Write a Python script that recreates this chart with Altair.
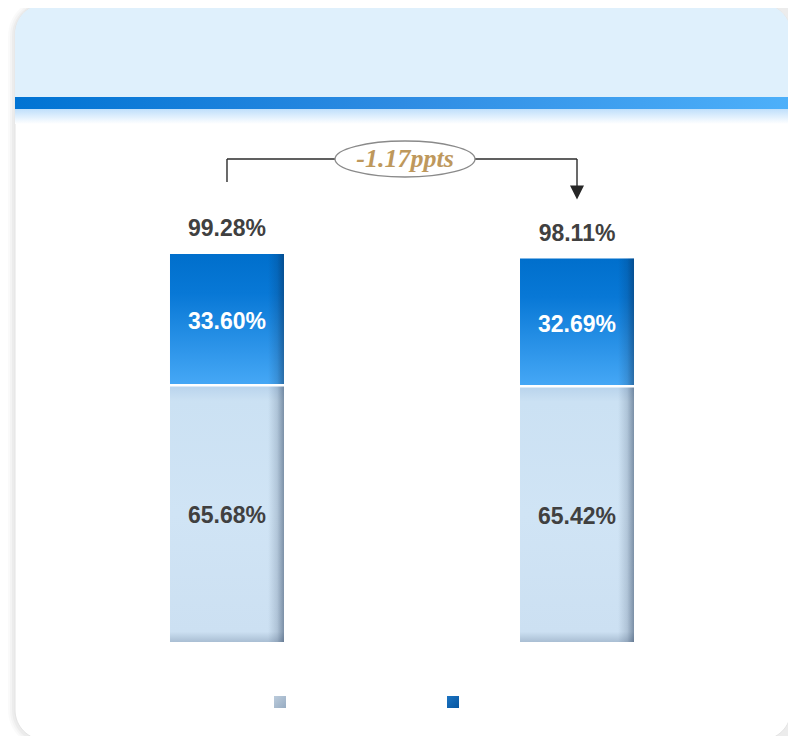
import altair as alt
import pandas as pd

# ---------------- data ----------------
categories = ["Period 1", "Period 2"]
series_names = ["Series 1", "Series 2"]
lower_values = [65.68, 65.42]
upper_values = [33.60, 32.69]
change_label = "-1.17ppts"

df = pd.DataFrame({"cat": categories, "base": [0.0, 0.0],
                   "lower": lower_values, "upper": upper_values})
df["total"] = (df["lower"] + df["upper"]).round(2)
df["lower_mid"] = df["lower"] / 2
df["upper_mid"] = df["lower"] + df["upper"] / 2
df["lower_label"] = df["lower"].map(lambda v: f"{v:.2f}%")
df["upper_label"] = df["upper"].map(lambda v: f"{v:.2f}%")
df["total_label"] = df["total"].map(lambda v: f"{v:.2f}%")

ann = pd.DataFrame({"from": [categories[0]], "to": [categories[1]], "label": [change_label]})
one = alt.Data(values=[{"k": 1}])

W, H = 780, 728

xscale = alt.Scale(type="band", domain=categories, range=[4, 784],
                   paddingInner=0.6743, paddingOuter=0.4514)
yscale = alt.Scale(domain=[-24.05, 162.23], nice=False, zero=False)

X = alt.X("cat:N", scale=xscale, axis=None, sort=categories)


def grad(stops, x1=0, y1=0, x2=0, y2=1):
    return alt.Gradient(gradient="linear", x1=x1, y1=y1, x2=x2, y2=y2,
                        stops=[alt.GradientStop(color=c, offset=o) for o, c in stops])


def deco_rect(x, x2, y, y2, **mk):
    return alt.Chart(one).mark_rect(**mk).encode(
        x=alt.value(x), x2=alt.value(x2), y=alt.value(y), y2=alt.value(y2))


# ---------------- card background ----------------
shadow1 = deco_rect(0, 800, -10, 740, fill="#000000", opacity=0.018, cornerRadius=38)
shadow2 = deco_rect(2, 800, -8, 738, fill="#000000", opacity=0.022, cornerRadius=36)
shadow3 = deco_rect(4, 800, -6, 736, fill="#000000", opacity=0.03, cornerRadius=34)
card = deco_rect(7, 783, -4, 732, fill="white", stroke="#E4E4E4", strokeWidth=1, cornerRadius=30)
header = deco_rect(7, 783, -4, 89, fill="#DFF0FC", cornerRadiusTopLeft=30, cornerRadiusTopRight=30)
band = deco_rect(7, 783, 89, 101,
                 fill=grad([(0, "#0073D3"), (0.5, "#2E8CE3"), (1, "#4DB0FA")], 0, 0, 1, 0))
glow = deco_rect(7, 783, 101, 116,
                 fill=grad([(0, "#BFDFFB"), (1, "#FFFFFF")]))

# ---------------- bars ----------------
base = alt.Chart(df)

lower_bar = base.mark_bar(
    fill=grad([(0, "#B8D3EC"), (0.06, "#CBE1F3"), (0.5, "#D0E4F5"), (0.96, "#CCE0F2"), (1, "#A9BED3")])
).encode(x=X, y=alt.Y("base:Q", scale=yscale, axis=None), y2="lower:Q")

upper_bar = base.mark_bar(
    fill=grad([(0, "#006FCC"), (0.3, "#0878D6"), (1, "#46A8F6")])
).encode(x=X, y=alt.Y("lower:Q", scale=yscale, axis=None), y2="total:Q")

edge = base.mark_bar(
    fill=grad([(0, "rgba(10,30,60,0)"), (0.86, "rgba(10,30,60,0)"),
               (0.94, "rgba(10,30,60,0.15)"), (1, "rgba(10,30,60,0.42)")], 0, 0, 1, 0)
).encode(x=X, y=alt.Y("base:Q", scale=yscale, axis=None), y2="total:Q")

gap = base.mark_tick(color="white", thickness=2.5, size=116, opacity=1).encode(
    x=X, y=alt.Y("lower:Q", scale=yscale, axis=None))

txt = dict(font="Liberation Sans", fontWeight="bold", fontSize=23, baseline="middle", align="center")
total_text = base.mark_text(color="#404040", dy=-25, **txt).encode(
    x=X, y=alt.Y("total:Q", scale=yscale, axis=None), text="total_label:N")
upper_text = base.mark_text(color="white", dy=2.5, **txt).encode(
    x=X, y=alt.Y("upper_mid:Q", scale=yscale, axis=None), text="upper_label:N")
lower_text = base.mark_text(color="#404040", dy=2.5, **txt).encode(
    x=X, y=alt.Y("lower_mid:Q", scale=yscale, axis=None), text="lower_label:N")

# ---------------- change annotation ----------------
abase = alt.Chart(ann)
XF = alt.X("from:N", scale=xscale, axis=None)
XT = alt.X("to:N", scale=xscale, axis=None)
line_kw = dict(color="#2B2B2B", strokeWidth=1.4)
hline = abase.mark_rule(**line_kw).encode(x=XF, x2="to:N", y=alt.value(151))
lline = abase.mark_rule(**line_kw).encode(x=XF, y=alt.value(151), y2=alt.value(174))
rline = abase.mark_rule(**line_kw).encode(x=XT, y=alt.value(151), y2=alt.value(180))
arrow = abase.mark_point(shape="M-1,-1L1,-1L0,1Z", size=196, fill="#262626",
                         filled=True, opacity=1, strokeWidth=0).encode(x=XT, y=alt.value(184.5))
ellipse = abase.mark_point(shape="M-1,0A1,0.257,0,1,0,1,0A1,0.257,0,1,0,-1,0Z", size=19600,
                           fill="white", stroke="#8A8A8A", strokeWidth=1.3, opacity=1,
                           fillOpacity=1).encode(x=alt.value(397), y=alt.value(151))
ann_text = abase.mark_text(font="Liberation Serif", fontStyle="italic", fontWeight="bold",
                           fontSize=26, color="#BE985C", align="center", baseline="middle").encode(
    x=alt.value(397), y=alt.value(151), text="label:N")

# ---------------- legend markers (labels hidden in the source) ----------------
leg1 = deco_rect(266, 278, 688, 700,
                 fill=grad([(0, "#BCCCDC"), (1, "#97ACC2")], 0, 0, 1, 1))
leg2 = deco_rect(439, 451, 688, 700,
                 fill=grad([(0, "#1C74C2"), (1, "#0756A0")], 0, 0, 1, 1))

chart = alt.layer(
    shadow1, shadow2, shadow3, card, header, band, glow,
    lower_bar, upper_bar, edge, gap,
    total_text, upper_text, lower_text,
    hline, lline, rline, arrow, ellipse, ann_text,
    leg1, leg2,
).properties(
    width=W, height=H, padding=0, background="white",
    autosize=alt.AutoSizeParams(type="none"),
).configure_view(stroke=None)

chart.save("out.html", embed_options={"renderer": "svg", "actions": False})
